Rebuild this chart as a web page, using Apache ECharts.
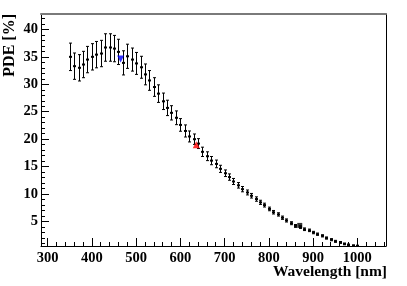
<!DOCTYPE html>
<html>
<head>
<meta charset="utf-8">
<script src="https://cdn.jsdelivr.net/npm/echarts@6/dist/echarts.min.js"></script>
<style>
html,body{margin:0;padding:0;background:#fff;}
#chart{width:407px;height:286px;}
</style>
</head>
<body>
<div id="chart"></div>
<script>
// ---- data ----
const wavelength = [350,360,370,380,390,400,410,420,430,440,450,460,470,480,490,500,510,520,530,540,550,560,570,580,590,600,610,620,630,640,650,660,670,680,690,700,710,720,730,740,750,760,770,780,790,800,810,820,830,840,850,860,870,880,890,900,910,920,930,940,950,960,970,980,990,1000];
const pde = [35.0,33.3,33.0,33.6,34.5,35.0,35.4,35.6,36.7,36.7,36.5,35.9,33.9,35.1,34.5,33.8,33.1,31.8,30.7,29.5,28.3,26.9,25.7,24.8,23.9,22.6,21.5,20.5,20.0,19.2,17.7,16.9,16.1,15.5,14.6,13.8,13.1,12.3,11.6,10.9,10.3,9.7,9.1,8.5,8.0,7.3,6.7,6.3,5.7,5.2,4.7,4.2,4.0,3.6,3.4,3.0,2.7,2.4,2.0,1.7,1.4,1.2,0.93,0.75,0.6,0.55];
const pdeErr = [2.5,2.4,2.4,2.4,2.4,2.4,2.4,2.4,2.5,2.5,2.4,2.3,2.2,2.2,2.1,2.0,2.0,1.9,1.8,1.7,1.6,1.5,1.4,1.3,1.25,1.15,1.1,1.0,0.95,0.9,0.85,0.8,0.75,0.7,0.65,0.6,0.58,0.55,0.5,0.48,0.45,0.42,0.4,0.38,0.35,0.33,0.32,0.3,0.3,0.28,0.27,0.26,0.25,0.24,0.23,0.22,0.21,0.2,0.2,0.19,0.18,0.17,0.16,0.15,0.15,0.15];
const markerWavelength = [465, 636, 870];
const markerPDE = [34.6, 19.0, 4.3];
const xMajorTicks = [300,400,500,600,700,800,900,1000];
const xMinorTicks = [300,320,340,360,380,400,420,440,460,480,500,520,540,560,580,600,620,640,660,680,700,720,740,760,780,800,820,840,860,880,900,920,940,960,980,1000,1020,1040,1060];
const yMajorTicks = [5,10,15,20,25,30,35,40];
const yMinorTicks = [1,2,3,4,5,6,7,8,9,10,11,12,13,14,15,16,17,18,19,20,21,22,23,24,25,26,27,28,29,30,31,32,33,34,35,36,37,38,39,40,41,42];
const xTitle = 'Wavelength [nm]';
const yTitle = 'PDE [%]';

// ---- chart ----
const XMIN = 285, XMAX = 1065, YMIN = 0.55, YMAX = 42.8;
const FONT = 'Liberation Serif';
const chart = echarts.init(document.getElementById('chart'), null, {renderer: 'canvas'});

const errData = wavelength.map((w, i) => [w, pde[i], pdeErr[i]]);
const mk = markerWavelength.map((w, i) => [w, markerPDE[i]]);

function renderErr(params, api) {
  const x = api.value(0), y = api.value(1), e = api.value(2);
  const p = api.coord([x, y]);
  const hi = api.coord([x, y + e]);
  const lo = api.coord([x, y - e]);
  const cx = Math.round(p[0]) + 0.5;
  const st = {stroke: '#000', lineWidth: 1};
  return {
    type: 'group',
    children: [
      {type: 'line', shape: {x1: cx, y1: hi[1], x2: cx, y2: lo[1]}, style: st},
      {type: 'line', shape: {x1: cx - 1.5, y1: hi[1], x2: cx + 1.5, y2: hi[1]}, style: st},
      {type: 'line', shape: {x1: cx - 1.5, y1: lo[1], x2: cx + 1.5, y2: lo[1]}, style: st},
      {type: 'rect', shape: {x: cx - 1.5, y: p[1] - 1, width: 3, height: 2}, style: {fill: '#000'}}
    ]
  };
}

const labelStyle = {fontFamily: FONT, fontWeight: 'bold', fontSize: 14.5, color: '#000', formatter: v => String(v)};

chart.setOption({
  animation: false,
  backgroundColor: '#fff',
  grid: {left: 41, right: 21, top: 14, bottom: 40, containLabel: false},
  xAxis: [
    {
      type: 'value', min: XMIN, max: XMAX, position: 'bottom',
      axisLine: {show: true, onZero: false, lineStyle: {color: '#000', width: 1}},
      axisTick: {show: true, inside: true, length: 8, customValues: xMajorTicks, lineStyle: {color: '#000'}},
      axisLabel: Object.assign({show: true, margin: 5, customValues: xMajorTicks}, labelStyle),
      splitLine: {show: false}
    },
    {
      type: 'value', min: XMIN, max: XMAX, position: 'bottom',
      axisLine: {show: false},
      axisTick: {show: true, inside: true, length: 4, customValues: xMinorTicks, lineStyle: {color: '#000'}},
      axisLabel: {show: false},
      splitLine: {show: false}
    },
    {
      type: 'value', min: XMIN, max: XMAX, position: 'top',
      axisLine: {show: true, onZero: false, lineStyle: {color: '#7a7a7a', width: 2}},
      axisTick: {show: false}, axisLabel: {show: false}, splitLine: {show: false}
    }
  ],
  yAxis: [
    {
      type: 'value', min: YMIN, max: YMAX, position: 'left',
      axisLine: {show: true, onZero: false, lineStyle: {color: '#000', width: 1}},
      axisTick: {show: true, inside: true, length: 8, customValues: yMajorTicks, lineStyle: {color: '#000'}},
      axisLabel: Object.assign({show: true, margin: 3, customValues: yMajorTicks}, labelStyle),
      splitLine: {show: false}
    },
    {
      type: 'value', min: YMIN, max: YMAX, position: 'left',
      axisLine: {show: false},
      axisTick: {show: true, inside: true, length: 4, customValues: yMinorTicks, lineStyle: {color: '#000'}},
      axisLabel: {show: false},
      splitLine: {show: false}
    },
    {
      type: 'value', min: YMIN, max: YMAX, position: 'right',
      axisLine: {show: true, onZero: false, lineStyle: {color: '#000', width: 1}},
      axisTick: {show: false}, axisLabel: {show: false}, splitLine: {show: false}
    }
  ],
  graphic: [
    {type: 'text', x: 387, y: 264, style: {text: xTitle, align: 'right', verticalAlign: 'top', font: 'bold 15.5px "Liberation Serif"', fill: '#000'}},
    {type: 'text', x: 9.5, y: 14, rotation: Math.PI / 2, style: {text: yTitle, align: 'right', verticalAlign: 'middle', font: 'bold 16px "Liberation Serif"', fill: '#000'}}
  ],
  series: [
    {
      type: 'custom', xAxisIndex: 0, yAxisIndex: 0, clip: true,
      renderItem: renderErr, data: errData, encode: {x: 0, y: 1}, z: 2
    },
    {
      type: 'scatter', xAxisIndex: 0, yAxisIndex: 0, z: 3,
      data: [
        {value: mk[0], symbol: 'triangle', symbolRotate: 180, symbolSize: 7, itemStyle: {color: '#0000ff'}},
        {value: mk[1], symbol: 'triangle', symbolSize: 7, itemStyle: {color: '#ff0000'}},
        {value: mk[2], symbol: 'rect', symbolSize: 5, itemStyle: {color: '#000'}}
      ]
    }
  ]
});
</script>
</body>
</html>
